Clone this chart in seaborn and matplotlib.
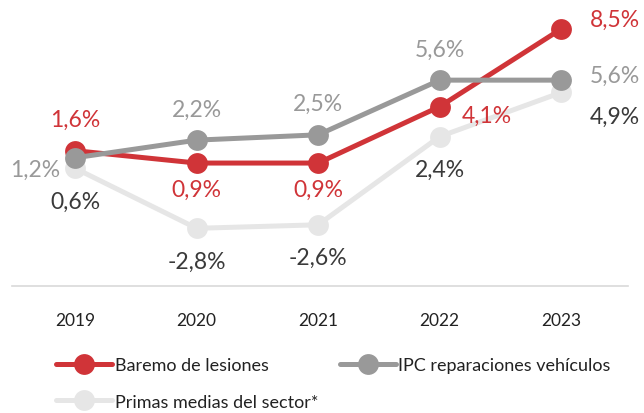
import seaborn as sns
import matplotlib.pyplot as plt
import pandas as pd

# data
years = ["2019", "2020", "2021", "2022", "2023"]
baremo = [1.6, 0.9, 0.9, 4.1, 8.5]
ipc = [1.2, 2.2, 2.5, 5.6, 5.6]
primas = [0.6, -2.8, -2.6, 2.4, 4.9]
names = ["Baremo de lesiones", "IPC reparaciones vehículos", "Primas medias del sector*"]

RED = "#d03438"
GRAY = "#999999"
LIGHT = "#e6e6e6"
DARK = "#3a3a3a"

sns.set_style("white")
plt.rcParams["font.family"] = ["Lato", "DejaVu Sans"]

fig = plt.figure(figsize=(6.44, 4.14), dpi=100)
ax = fig.add_axes([12 / 644, 127 / 414, 616 / 644, 287 / 414])

series = {
    names[2]: (primas, LIGHT),
    names[0]: (baremo, RED),
    names[1]: (ipc, GRAY),
}
handles = {}
for name, (vals, col) in series.items():
    df = pd.DataFrame({"year": years, "v": vals})
    sns.lineplot(data=df, x="year", y="v", ax=ax, color=col, linewidth=3.6,
                 marker="o", markersize=15, markeredgewidth=0, label=name,
                 legend=False)
    handles[name] = ax.lines[-1]

# labels: (dx, dy) in pixels, ha
def lab(i, v, color, dx, dy, ha="center"):
    ax.annotate(f"{v:.1f}%".replace(".", ","), (i, v), xytext=(dx, dy),
                textcoords="offset pixels", ha=ha, va="center",
                fontsize=16.5, color=color)

for i, v in enumerate(baremo):
    if i == 0:
        lab(i, v, RED, 0, 31)
    elif i in (1, 2):
        lab(i, v, RED, 0, -26)
    elif i == 3:
        lab(i, v, RED, 47, -9)
    else:
        lab(i, v, RED, 29, 10, "left")

for i, v in enumerate(ipc):
    if i == 0:
        lab(i, v, GRAY, -15, -12, "right")
    elif i == 4:
        lab(i, v, GRAY, 29, 5, "left")
    else:
        lab(i, v, GRAY, 0, 31)

for i, v in enumerate(primas):
    if i == 4:
        lab(i, v, DARK, 29, -24, "left")
    else:
        lab(i, v, DARK, 0, -33)

ax.set_xlim(-0.52, 4.55)
ax.set_ylim(-6.07, 10.2)
ax.set_xlabel("")
ax.set_ylabel("")
ax.set_yticks([])
ax.tick_params(axis="x", length=0, pad=19, labelsize=12.5, labelcolor="#222222")
for s in ["top", "left", "right"]:
    ax.spines[s].set_visible(False)
ax.spines["bottom"].set_color("#d9d9d9")
ax.spines["bottom"].set_linewidth(1.2)

order = [names[0], names[2], names[1]]
fig.legend([handles[n] for n in order], order, ncol=2, frameon=False,
           loc="upper left", bbox_to_anchor=(56 / 644, 1 - 358 / 414),
           fontsize=13, handlelength=3.1, handletextpad=0.15,
           columnspacing=1.2, labelspacing=1.15, borderaxespad=0,
           borderpad=0, labelcolor="#222222")

fig.savefig("out.png", dpi=100)
